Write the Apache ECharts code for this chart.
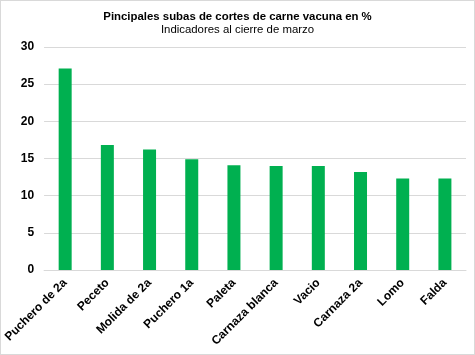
<!DOCTYPE html>
<html><head><meta charset="utf-8">
<script src="https://cdn.jsdelivr.net/npm/echarts@6/dist/echarts.min.js"></script>
<style>html,body{margin:0;padding:0;background:#fff}#c{width:475px;height:355px;box-sizing:border-box;border:1px solid #d9d9d9}</style>
</head><body><div id="c"></div>
<script>
const categories = ["Puchero de 2a","Peceto","Molida de 2a","Puchero 1a","Paleta","Carnaza blanca","Vacio","Carnaza 2a","Lomo","Falda"];
const values = [27.1, 16.8, 16.2, 14.9, 14.1, 14.0, 14.0, 13.2, 12.3, 12.3];
const titleText = "Pincipales subas de cortes de carne vacuna en %";
const subtitleText = "Indicadores al cierre de marzo";

const chart = echarts.init(document.getElementById('c'), null, {renderer:'canvas'});
chart.setOption({
  animation:false,
  title:{text:titleText, subtext:subtitleText, left:'center', top:5, itemGap:2,
    textStyle:{fontFamily:'Liberation Sans, Arial', fontSize:11.4, fontWeight:'bold', color:'#000'},
    subtextStyle:{fontFamily:'Liberation Sans, Arial', fontSize:11.4, color:'#000'}},
  grid:{left:39, right:8, top:46, bottom:84, containLabel:false},
  xAxis:{type:'category', data:categories,
    axisLine:{show:true, lineStyle:{color:'#d9d9d9'}}, axisTick:{show:false},
    axisLabel:{rotate:45, interval:0, fontFamily:'Liberation Sans, Arial', fontSize:12, fontWeight:'bold', color:'#000', margin:11}},
  yAxis:{type:'value', min:0, max:30, interval:5,
    axisLine:{show:false}, axisTick:{show:false},
    splitLine:{lineStyle:{color:'#d9d9d9'}},
    axisLabel:{fontFamily:'Liberation Sans, Arial', fontSize:12, fontWeight:'bold', color:'#000', margin:10}},
  series:[{type:'bar', data:values, barWidth:13, itemStyle:{color:'#00B050'}}]
});
</script></body></html>
